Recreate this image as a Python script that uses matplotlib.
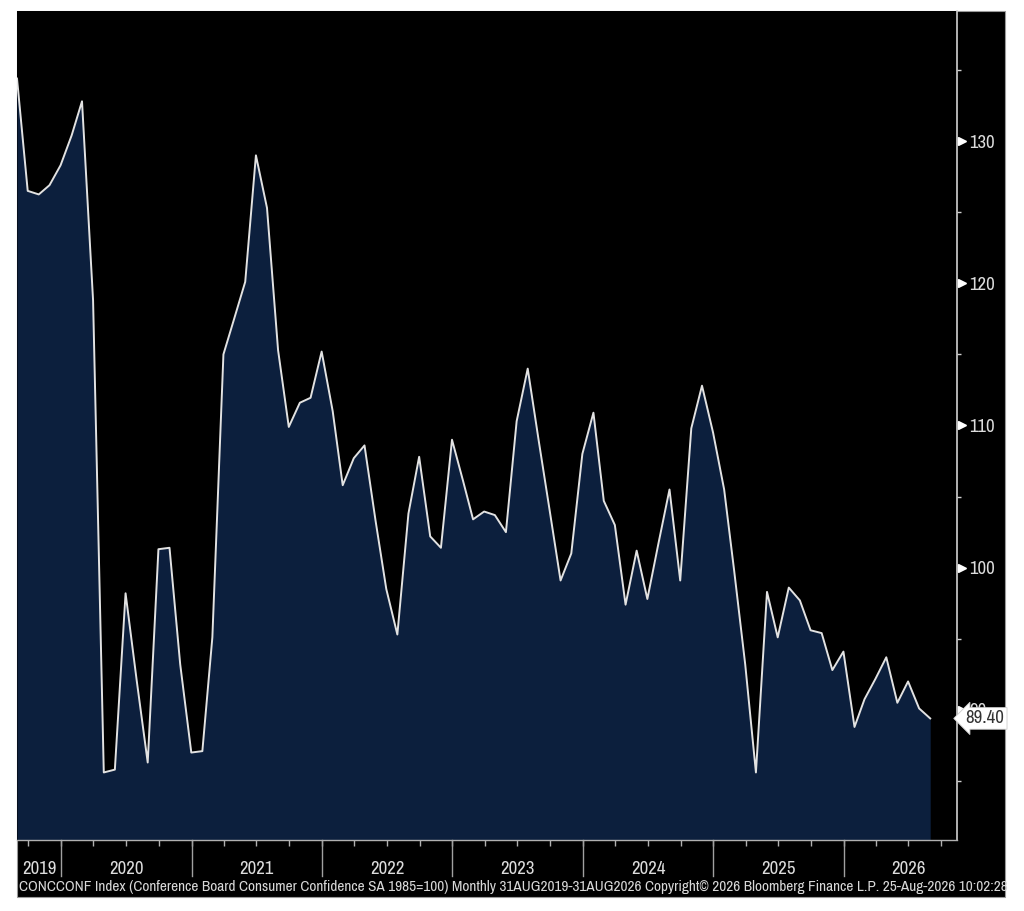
import matplotlib
matplotlib.use("Agg")
import matplotlib.pyplot as plt
import matplotlib.transforms as mtrans
from matplotlib.patches import Rectangle
import pandas as pd

# ---- data (month-end values, Aug 2019 - Aug 2026) ----
start_date = "2019-08-31"
values_2019 = [134.4, 126.5, 126.25, 126.9, 128.3]
values_2020 = [130.4, 132.8, 118.8, 85.6, 85.8, 98.2, 92.1, 86.3, 101.3, 101.4, 93.2, 87.0]
values_2021 = [87.1, 95.1, 115.0, 117.5, 120.1, 129.0, 125.3, 115.3, 109.9, 111.6, 111.95, 115.2]
values_2022 = [111.0, 105.8, 107.7, 108.6, 103.3, 98.5, 95.3, 103.8, 107.8, 102.2, 101.4, 109.0]
values_2023 = [106.1, 103.4, 103.95, 103.7, 102.5, 110.3, 114.0, 108.9, 104.1, 99.1, 101.0, 108.0]
values_2024 = [110.9, 104.7, 103.0, 97.4, 101.2, 97.8, 101.7, 105.5, 99.1, 109.8, 112.8, 109.5]
values_2025 = [105.5, 99.8, 93.2, 85.6, 98.3, 95.1, 98.6, 97.7, 95.6, 95.4, 92.8, 94.1]
values_2026 = [88.8, 90.75, 92.2, 93.7, 90.5, 92.0, 90.1, 89.4]
last_label = "89.40"
year_labels = ["2019", "2020", "2021", "2022", "2023", "2024", "2025", "2026"]
y_major = [90, 100, 110, 120, 130]
y_minor = [85, 95, 105, 115, 125, 135]
footer = ("CONCCONF Index (Conference Board Consumer Confidence SA 1985=100) Monthly "
          "31AUG2019-31AUG2026 Copyright\u00a9 2026 Bloomberg Finance L.P. 25-Aug-2026 10:02:28")

values = (values_2019 + values_2020 + values_2021 + values_2022 +
          values_2023 + values_2024 + values_2025 + values_2026)
dates = pd.date_range(start_date, periods=len(values), freq="ME")

FONT = ["Archivo Narrow", "DejaVu Sans"]
plt.rcParams["font.family"] = FONT

W, H = 1024, 911
fig = plt.figure(figsize=(W / 100, H / 100), dpi=100, facecolor="white")

# black panel
fig.patches.append(Rectangle((17 / W, 1 - 897 / H), (1005 - 17) / W, (897 - 11) / H,
                             transform=fig.transFigure, facecolor="black",
                             edgecolor="#9a9a9a", linewidth=0.8, zorder=-10))

ax = fig.add_axes([17 / W, 1 - 840 / H, (957 - 17) / W, (840 - 11) / H])
ax.set_facecolor("black")

ylo, yhi = 80.85, 139.15
ax.fill_between(dates, values, ylo, color="#0c1f3d", linewidth=0, zorder=1)
ax.plot(dates, values, color="#e2e2e2", linewidth=1.4, zorder=2)

x_end = pd.Timestamp("2026-11-14")
ax.set_xlim(dates[0], x_end)
ax.set_ylim(ylo, yhi)

for s in ["left", "top"]:
    ax.spines[s].set_visible(False)
ax.spines["right"].set_color("#d0d0d0")
ax.spines["right"].set_linewidth(1.2)
ax.spines["bottom"].set_color("#b0b0b0")
ax.spines["bottom"].set_linewidth(1.0)

# y axis on the right
ax.yaxis.tick_right()
ax.set_yticks(y_major)
ax.set_yticks(y_minor, minor=True)
ax.set_yticklabels([str(v) for v in y_major])
ax.tick_params(axis="y", which="major", length=0, pad=8.5, labelsize=13.5, labelcolor="#dcdcdc")
ax.tick_params(axis="y", which="minor", length=3, width=1, color="#d0d0d0", direction="out")
trans_y = mtrans.blended_transform_factory(ax.transAxes, ax.transData)
ax.plot([1.0 + 5 / 940] * len(y_major), y_major, linestyle="none", marker=">",
        markersize=5.5, color="white", transform=trans_y, clip_on=False, zorder=5)

# x axis: quarterly ticks, year separators, centred year labels
qticks = pd.date_range("2019-10-01", "2026-10-01", freq="QS-JAN")
ax.set_xticks(qticks)
ax.set_xticklabels([])
ax.tick_params(axis="x", which="major", length=4, width=1, color="#b0b0b0", direction="out")

trans_x = mtrans.blended_transform_factory(ax.transData, ax.transAxes)
year_starts = pd.to_datetime([f"{y}-01-01" for y in range(2020, 2027)])
sep_h = 36 / 829
for d in year_starts:
    ax.plot([d, d], [0, -sep_h], color="#a0a0a0", linewidth=1.0,
            transform=trans_x, clip_on=False)
bounds = [dates[0]] + list(year_starts) + [x_end]
label_y = -(869 - 840) / 829
for i, lab in enumerate(year_labels):
    a, b = bounds[i], bounds[i + 1]
    mid = a + (b - a) / 2
    if i == len(year_labels) - 1:
        mid = pd.Timestamp("2026-07-01")
    ax.text(mid, label_y, lab, transform=trans_x, ha="center", va="center",
            fontsize=13.5, color="#dcdcdc", clip_on=False)

# last value tag
ax.annotate(last_label, xy=(1.0, values[-1]), xycoords=trans_y,
            xytext=(6, 0), textcoords="offset points", ha="left", va="center",
            fontsize=13.5, color="#333333", zorder=10, annotation_clip=False,
            bbox=dict(boxstyle="larrow,pad=0.15", facecolor="white",
                      edgecolor="#cccccc", linewidth=0.6))

# footer
fig.text(19 / W, 1 - 887 / H, footer, ha="left", va="center", fontsize=11.0,
         color="#d8d8d8")

fig.savefig("out.png", dpi=100, facecolor="white")
